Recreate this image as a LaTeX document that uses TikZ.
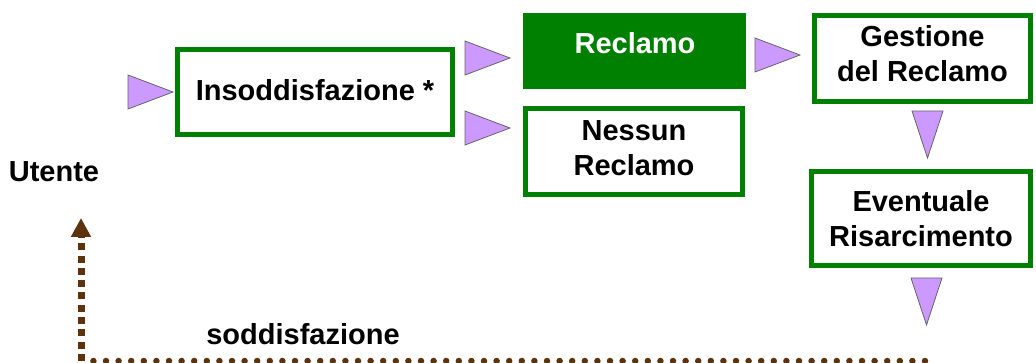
\documentclass[tikz,border=0pt]{standalone}
\usepackage{fontspec}
\setmainfont{Liberation Sans}
\usetikzlibrary{arrows.meta}
\definecolor{boxgreen}{RGB}{0,128,0}
\definecolor{lav}{RGB}{204,153,255}
\definecolor{brn}{RGB}{92,51,13}
\begin{document}
\begin{tikzpicture}[x=1pt,y=-1pt,
  box/.style={draw=boxgreen, line width=5pt, fill=white, inner sep=0pt},
  lbl/.style={font=\fontsize{29}{35}\selectfont\bfseries, inner sep=0pt, align=center},
  trir/.pic={\filldraw[fill=lav,draw=black!60,line width=0.8pt] (0,-17) -- (45,0) -- (0,17) -- cycle;},
  trid/.pic={\filldraw[fill=lav,draw=black!60,line width=0.8pt] (-15.5,0) -- (15.5,0) -- (0,47) -- cycle;},
  vdots/.style={draw=brn, line width=7pt, dash pattern=on 7pt off 5.3pt},
  hdots/.style={draw=brn, line width=6.5pt, line cap=round, dash pattern=on 0pt off 12.6pt}
]
\useasboundingbox (0,0) rectangle (1036,363);

% boxes
\node[box, minimum width=275pt, minimum height=85pt] (ins) at (315,92) {};
\node[box, fill=boxgreen, minimum width=218pt, minimum height=71pt] (rec) at (634.5,51) {};
\node[box, minimum width=217pt, minimum height=86pt] (nes) at (634,151.5) {};
\node[box, minimum width=216pt, minimum height=86pt] (ges) at (922.5,58.5) {};
\node[box, minimum width=219pt, minimum height=94pt] (eve) at (921,218.5) {};

% texts
\node[lbl] (instxt) at (315,90.5) {Insoddisfazione *};
\node[lbl, text=white] (rectxt) at (635,43) {Reclamo};
\node[lbl] (nestxt) at (634,148.5) {Nessun\\Reclamo};
\node[lbl] (gestxt) at (922.5,53.5) {Gestione\\del Reclamo};
\node[lbl] (evetxt) at (921,218.5) {Eventuale\\Risarcimento};
\node[lbl] (utente) at (54,172) {Utente};
\node[lbl] (sodd) at (303,334) {soddisfazione};

% triangles
\pic at (128,92) {trir};
\pic at (465,58) {trir};
\pic at (465,128) {trir};
\pic at (755,55) {trir};
\pic at (927.5,111) {trid};
\pic at (926.5,278) {trid};

% dotted return path
\coordinate (dotend) at (925,361);
\coordinate (corner) at (81,361);
\coordinate (uarr) at (81,218);
\draw[hdots] (dotend) -- (corner);
\draw[vdots, -{Triangle[width=19pt,length=19pt]}] (corner) -- (uarr);
\end{tikzpicture}
\end{document}
